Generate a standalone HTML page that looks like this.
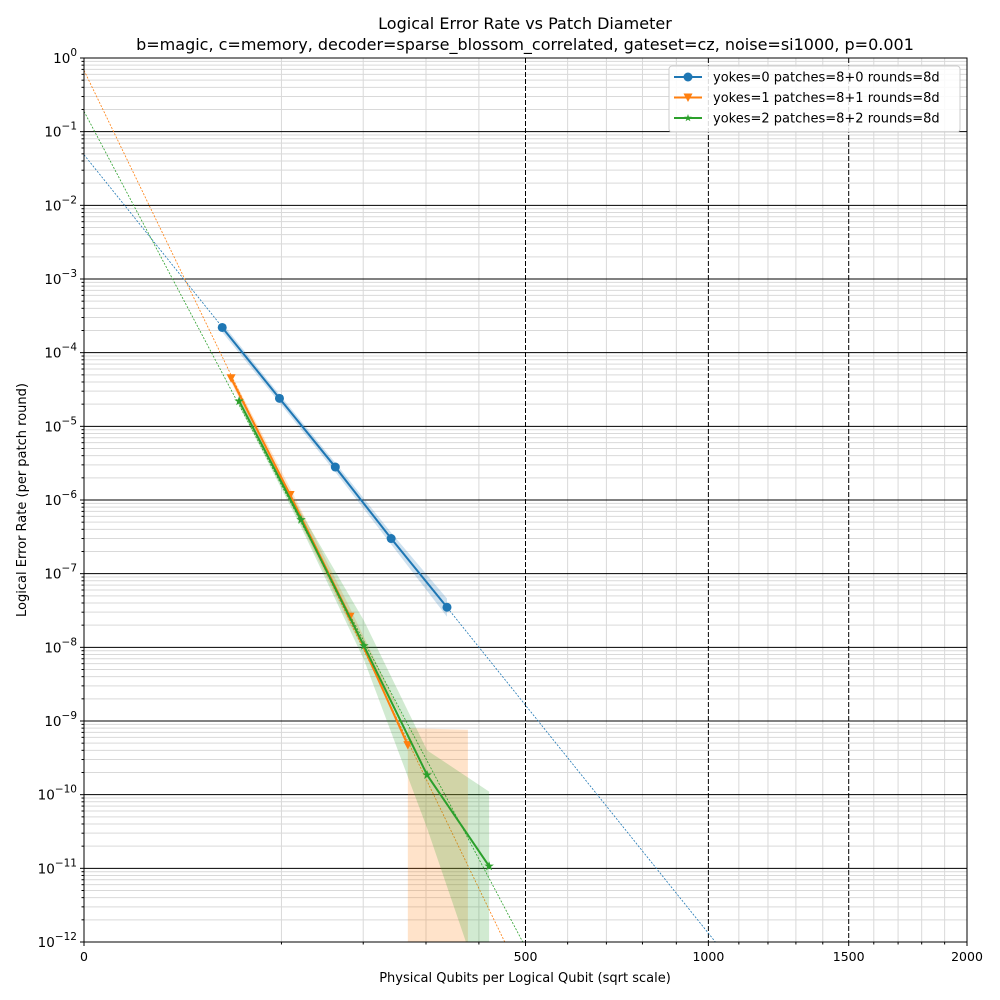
<!DOCTYPE html>
<html><head><meta charset="utf-8"><style>
html,body{margin:0;padding:0;overflow:hidden;width:1000px;height:1000px;background:#fff}
svg{display:block}
svg text{font-family:"DejaVu Sans","Liberation Sans",sans-serif}
</style></head><body>
<svg id="c" width="1000" height="1000" viewBox="0 0 1000 1000" xmlns="http://www.w3.org/2000/svg">
<rect width="1000" height="1000" fill="#fff"/>
<text x="525" y="29" text-anchor="middle" font-size="16">Logical Error Rate vs Patch Diameter</text>
<text x="525" y="50" text-anchor="middle" font-size="16">b=magic, c=memory, decoder=sparse_blossom_correlated, gateset=cz, noise=si1000, p=0.001</text>
<text x="525" y="982" text-anchor="middle" font-size="13">Physical Qubits per Logical Qubit (sqrt scale)</text>
<text transform="translate(26,500) rotate(-90)" text-anchor="middle" font-size="13">Logical Error Rate (per patch round)</text>
<defs><clipPath id="pc"><rect x="84" y="58" width="883" height="884"/></clipPath></defs>
<g id="grid"></g>
<g id="marks" clip-path="url(#pc)"></g>
<g id="pts"></g>
<rect x="84" y="58" width="883" height="884" fill="none" stroke="#000" stroke-width="1"/>
<g id="axes"></g>
<g id="legend"></g>
</svg>
<script>
const seriesNames=["yokes=0 patches=8+0 rounds=8d","yokes=1 patches=8+1 rounds=8d","yokes=2 patches=8+2 rounds=8d"];
const x0=[49,98,162,242,338];
const y0=[2.2e-4,2.4e-5,2.8e-6,3.0e-7,3.5e-8];
const lo0=[1.9e-4,2.1e-5,2.4e-6,2.5e-7,2.6e-8];
const hi0=[2.5e-4,2.7e-5,3.2e-6,3.6e-7,4.6e-8];
const x1=[55.5,109,181.5,269,378];
const y1=[4.5e-5,1.17e-6,2.6e-8,4.7e-10,null];
const lo1=[4.0e-5,9.5e-7,2e-8,null,0];
const hi1=[5.1e-5,1.45e-6,3.4e-8,8e-10,7.6e-10];
const x2=[61.7,120.8,201,302,421];
const y2=[2.2e-5,5.4e-7,1.05e-8,1.85e-10,1.07e-11];
const lo2=[1.9e-5,4.3e-7,6.8e-9,3.5e-11,1.2e-13];
const hi2=[2.5e-5,6.8e-7,2.3e-8,4e-10,1.1e-10];
const xTicks=[0,500,1000,1500,2000];
const yExps=[0,-1,-2,-3,-4,-5,-6,-7,-8,-9,-10,-11,-12];
const colors=["#1f77b4","#ff7f0e","#2ca02c"];

const L=84,R=967,T=58,B=942,NS="http://www.w3.org/2000/svg";
const sx=v=>L+Math.sqrt(v)/Math.sqrt(2000)*(R-L);
const sy=v=>v<=0?B:Math.min(B,T+(-Math.log10(v))/12*(B-T));
const syRaw=v=>T+(-Math.log10(v))/12*(B-T);
function mk(p,tag,a){const e=document.createElementNS(NS,tag);for(const k in a)e.setAttribute(k,a[k]);p.appendChild(e);return e;}
const grid=document.getElementById('grid'),axes=document.getElementById('axes'),marks=document.getElementById('marks'),pts=document.getElementById('pts'),leg=document.getElementById('legend');
for(let v=100;v<2000;v+=100){if(v%500===0)continue;const g=mk(grid,'line',{x1:sx(v),x2:sx(v),y1:T,y2:B,stroke:'#d9d9d9','stroke-width':1});


mk(axes,'line',{x1:sx(v),x2:sx(v),y1:B,y2:B+2.5,stroke:'#000'});}
for(let e=0;e>-12;e--)for(let m=2;m<10;m++){const v=m*Math.pow(10,e-1);const g=mk(grid,'line',{x1:L,x2:R,y1:sy(v),y2:sy(v),stroke:'#d9d9d9','stroke-width':1});


mk(axes,'line',{x1:L-2.5,x2:L,y1:sy(v),y2:sy(v),stroke:'#000'});}
xTicks.forEach(v=>{const g=mk(grid,'line',{x1:sx(v),x2:sx(v),y1:T,y2:B,stroke:'#000','stroke-width':1,'stroke-dasharray':'5,2'});


mk(axes,'line',{x1:sx(v),x2:sx(v),y1:B,y2:B+4,stroke:'#000'});
const t=mk(axes,'text',{x:sx(v),y:B+19,'text-anchor':'middle','font-size':12.5});t.textContent=v;

});
yExps.forEach(e=>{const v=Math.pow(10,e),y=sy(v);const g=mk(grid,'line',{x1:L,x2:R,y1:y,y2:y,stroke:'#000','stroke-width':1});


mk(axes,'line',{x1:L-4,x2:L,y1:y,y2:y,stroke:'#000'});
const t=mk(axes,'text',{x:L-7,y:y+5,'text-anchor':'end','font-size':13.5});t.innerHTML='10<tspan dy="-7" font-size="10.5">'+(e<0?'\u2212'+(-e):e)+'</tspan>';

});
const S=[[x0,y0,lo0,hi0],[x1,y1,lo1,hi1],[x2,y2,lo2,hi2]];
function marker(p,k,x,y,c,s){let e;
if(k===0)e=mk(p,'circle',{cx:x,cy:y,r:4.5*s,fill:c});
else if(k===1)e=mk(p,'polygon',{points:`${x-4.5*s},${y-4*s} ${x+4.5*s},${y-4*s} ${x},${y+4.5*s}`,fill:c});
else{let q=[];for(let i=0;i<10;i++){const r=i%2?2*s:5*s,a=-Math.PI/2+i*Math.PI/5;q.push((x+r*Math.cos(a)).toFixed(1)+','+(y+r*Math.sin(a)).toFixed(1));}e=mk(p,'polygon',{points:q.join(' '),fill:c});}
return e;}
S.forEach(([xs,ys,lo,hi],k)=>{const c=colors[k];
let up=xs.map((x,i)=>sx(x)+','+sy(hi[i]));
let dn=[];
xs.forEach((x,i)=>{
if(lo[i]===null){dn.push(sx(x)+','+sy(hi[i]));dn.push(sx(x)+','+B);}
else if(lo[i]>0&&syRaw(lo[i])>B&&i>0&&lo[i-1]>0){const xa=sx(xs[i-1]),ya=syRaw(lo[i-1]),yb=syRaw(lo[i]),t=(B-ya)/(yb-ya);dn.push((xa+(sx(x)-xa)*t)+','+B);dn.push(sx(x)+','+B);}
else dn.push(sx(x)+','+sy(lo[i]));});
const b=mk(marks,'polygon',{points:up.concat(dn.reverse()).join(' '),fill:c,'fill-opacity':0.22});


let n=0,sX=0,sY=0,sXX=0,sXY=0;xs.forEach((x,i)=>{if(ys[i]==null)return;const a=Math.sqrt(x),l=Math.log10(ys[i]);n++;sX+=a;sY+=l;sXX+=a*a;sXY+=a*l;});
const m=(n*sXY-sX*sY)/(n*sXX-sX*sX),bb=(sY-m*sX)/n;
const xe=Math.min(Math.sqrt(2000),(-12-bb)/m);
const f=mk(marks,'line',{x1:sx(0),y1:syRaw(Math.pow(10,bb)),x2:L+xe/Math.sqrt(2000)*(R-L),y2:syRaw(Math.pow(10,bb+m*xe)),stroke:c,'stroke-width':0.8,'stroke-dasharray':'2,1.5'});


const pp=xs.map((x,i)=>ys[i]==null?null:sx(x)+','+sy(ys[i])).filter(Boolean);
const ln=mk(pts,'polyline',{points:pp.join(' '),fill:'none',stroke:c,'stroke-width':2});


xs.forEach((x,i)=>{if(ys[i]==null)return;const e=marker(pts,k,sx(x),sy(ys[i]),c,1);

});
});
const box=mk(leg,'rect',{x:669,y:66,width:291,height:66,rx:3,fill:'#fff','fill-opacity':0.85,stroke:'#ccc'});


seriesNames.forEach((s,k)=>{const y=77+k*20.5;
mk(leg,'line',{x1:674,x2:702,y1:y,y2:y,stroke:colors[k],'stroke-width':2});
marker(leg,k,688,y,colors[k],k===2?0.8:1);
const t=mk(leg,'text',{x:713,y:y+4.5,'font-size':13});t.textContent=s;

});
</script>
</body></html>
